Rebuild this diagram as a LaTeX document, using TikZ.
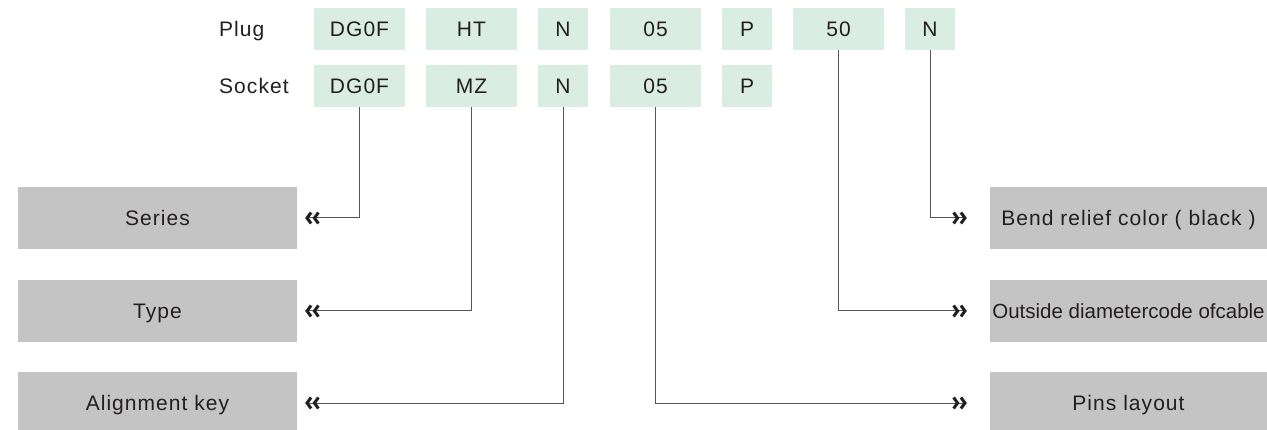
\documentclass[tikz,border=0pt]{standalone}
\usepackage{fontspec}
\setmainfont{Liberation Sans}[LetterSpace=5]
\newfontfamily\plainfont{Liberation Sans}
\usetikzlibrary{arrows.meta}
\definecolor{codegreen}{RGB}{217,237,226}
\definecolor{labelgray}{RGB}{196,196,196}
\definecolor{inkgray}{RGB}{35,31,32}
\definecolor{wiregray}{RGB}{85,85,85}
\tikzset{
  every node/.style={font=\fontsize{21}{25}\selectfont, text=inkgray, inner sep=0pt,
    text height=15pt, text depth=0pt},
  codebox/.style={fill=codegreen, minimum height=42pt},
  widebox/.style={codebox, minimum width=91pt},
  narrowbox/.style={codebox, minimum width=50pt},
  labelbox/.style={fill=labelgray, minimum height=62pt},
  chevrons/.tip={Straight Barb[length=4pt,width=11pt,line width=3pt,color=inkgray] Straight Barb[length=4pt,width=11pt,line width=3pt,color=inkgray]},
  wire/.style={draw=wiregray, line width=1pt, -chevrons}
}
\begin{document}
\begin{tikzpicture}[x=1pt,y=-1pt]
\useasboundingbox (0,0) rectangle (1267,430);

\node[anchor=west] (plug) at (219,29) {Plug};
\node[anchor=west] (socket) at (219,86) {Socket};

\node[widebox] (p1) at (359.5,29) {DG0F};
\node[widebox] (p2) at (471.5,29) {HT};
\node[narrowbox] (p3) at (563,29) {N};
\node[widebox] (p4) at (655.5,29) {05};
\node[narrowbox] (p5) at (747,29) {P};
\node[widebox] (p6) at (838.5,29) {50};
\node[narrowbox] (p7) at (930,29) {N};

\node[widebox] (s1) at (359.5,86) {DG0F};
\node[widebox] (s2) at (471.5,86) {MZ};
\node[narrowbox] (s3) at (563,86) {N};
\node[widebox] (s4) at (655.5,86) {05};
\node[narrowbox] (s5) at (747,86) {P};

\node[labelbox, minimum width=279pt] (series) at (157.5,218) {Series};
\node[labelbox, minimum width=279pt] (type) at (157.5,311) {Type};
\node[labelbox, minimum width=279pt] (align) at (157.5,403) {Alignment key};

\node[labelbox, minimum width=277pt] (bend) at (1128.5,218) {Bend relief color ( black )};
\node[labelbox, minimum width=277pt, font=\fontsize{20.5}{25}\selectfont] (diam) at (1128.5,311) {\plainfont Outside diametercode ofcable};
\node[labelbox, minimum width=277pt] (pins) at (1128.5,403) {Pins layout};

\draw[wire, shorten >=8pt] (s1.south) |- (series.east);
\draw[wire, shorten >=8pt] (s2.south) |- (type.east);
\draw[wire, shorten >=8pt] (s3.south) |- (align.east);

\draw[wire, shorten >=23pt] (p7.south) |- (bend.west);
\draw[wire, shorten >=23pt] (p6.south) |- (diam.west);
\draw[wire, shorten >=23pt] (s4.south) |- (pins.west);
\end{tikzpicture}
\end{document}
